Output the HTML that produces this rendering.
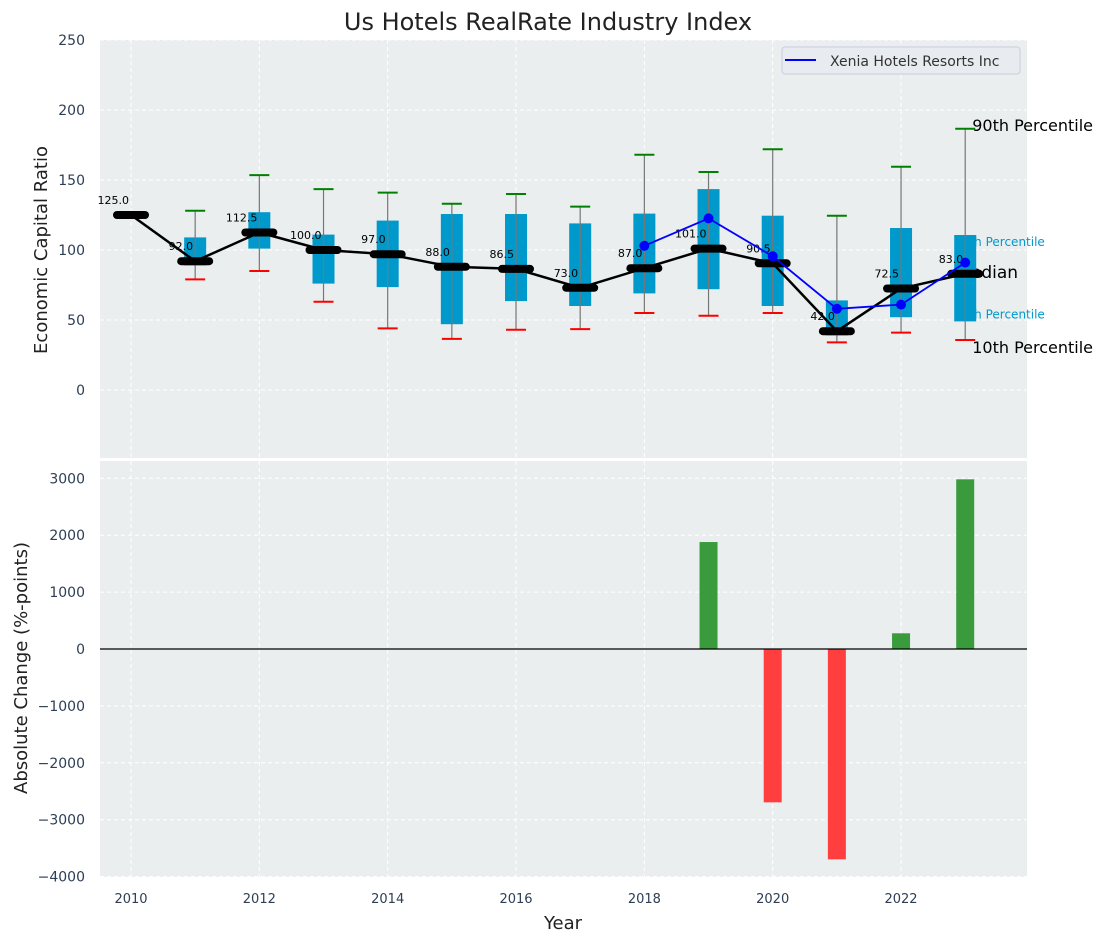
<!DOCTYPE html>
<html><head><meta charset="utf-8"><style>
html,body{margin:0;padding:0;background:#fff;}
svg{display:block;font-family:"DejaVu Sans","Liberation Sans",sans-serif;}
</style></head><body>
<svg id="chart" width="1107" height="942" viewBox="0 0 1107 942" xmlns="http://www.w3.org/2000/svg">
<text x="548" y="30" text-anchor="middle" font-size="24" fill="#222">Us Hotels RealRate Industry Index</text>
<rect x="100" y="40" width="927" height="418" fill="#eaeeef"/>
<rect x="100" y="461" width="927" height="416" fill="#eaeeef"/>
<g id="grid"></g>
<g id="annot"></g>
<g id="marks"></g>
<g id="bars"></g>
<text transform="translate(47,250) rotate(-90)" text-anchor="middle" font-size="18" fill="#222">Economic Capital Ratio</text>
<text transform="translate(27,668) rotate(-90)" text-anchor="middle" font-size="18" fill="#222">Absolute Change (%-points)</text>
<text x="563" y="929" text-anchor="middle" font-size="18" fill="#222">Year</text>
<g>
<rect x="782" y="47" width="238" height="27" rx="3" fill="#e8ebef" stroke="#ccd" stroke-width="1"/>
<line x1="785" y1="60" x2="816" y2="60" stroke="#0000ff" stroke-width="2"/>
<text x="830" y="66" font-size="14" fill="#333">Xenia Hotels Resorts Inc</text>
</g>
</svg>
<script>
const years=[2010,2011,2012,2013,2014,2015,2016,2017,2018,2019,2020,2021,2022,2023];
const medians=[125,92,112.5,100,97,88,86.5,73,87,101,90.5,42,72.5,83];
const q1=[null,89,101,76,73.5,47,63.5,60,69,72,60,39,52,49];
const q3=[null,109,127,111,121,125.7,125.7,119,126,143.5,124.5,64,115.7,110.7];
const p10=[null,79,85,63,44,36.5,43,43.5,55,53,55,34,41,35.7];
const p90=[null,128,153.5,143.5,141,133,140,131,168,155.7,172,124.5,159.5,186.6];
const xeniaYears=[2018,2019,2020,2021,2022,2023];
const xeniaValues=[103,122.6,95.5,58,61,91];
const changeYears=[2019,2020,2021,2022,2023];
const changeValues=[1880,-2695,-3697,276,2982];
const topTicks=[0,50,100,150,200,250];
const bottomTicks=[-4000,-3000,-2000,-1000,0,1000,2000,3000];
const xTicks=[2010,2012,2014,2016,2018,2020,2022];

const NS="http://www.w3.org/2000/svg";
const X=y=>131+(y-2010)*64.17;
const YT=v=>390-v*1.4;
const YB=v=>649-v*0.0569;
const fmt=v=>v<0?'\u2212'+Math.abs(v):String(v);
function mk(parent,tag,attrs,text){const e=document.createElementNS(NS,tag);for(const k in attrs)e.setAttribute(k,attrs[k]);if(text!==undefined)e.textContent=text;document.getElementById(parent).appendChild(e);return e;}

xTicks.forEach(t=>{
  let g=mk('grid','line',{x1:X(t),x2:X(t),y1:40,y2:458,stroke:'#fff','stroke-dasharray':'4,3','stroke-width':1});
  
  
  g=mk('grid','line',{x1:X(t),x2:X(t),y1:461,y2:877,stroke:'#fff','stroke-dasharray':'4,3','stroke-width':1});
  
  
  const l=mk('grid','text',{x:X(t),y:903,'text-anchor':'middle','font-size':13,fill:'#2d3e55'},t);
  
  
});
topTicks.forEach(t=>{
  const g=mk('grid','line',{x1:100,x2:1027,y1:YT(t),y2:YT(t),stroke:'#fff','stroke-dasharray':'4,3','stroke-width':1});
  
  
  const l=mk('grid','text',{x:85,y:YT(t)+5,'text-anchor':'end','font-size':14,fill:'#2d3e55'},fmt(t));
  
  
});
bottomTicks.forEach(t=>{
  const g=mk('grid','line',{x1:100,x2:1027,y1:YB(t),y2:YB(t),stroke:'#fff','stroke-dasharray':'4,3','stroke-width':1});
  
  
  const l=mk('grid','text',{x:85,y:YB(t)+5,'text-anchor':'end','font-size':14,fill:'#2d3e55'},fmt(t));
  
  
});

const last=years.length-1, lx=X(years[last]);
let a;
a=mk('annot','text',{x:lx+7,y:YT(p90[last])+2,'font-size':16,fill:'#000'},'90th Percentile');


a=mk('annot','text',{x:lx+7,y:YT(p10[last])+13,'font-size':16,fill:'#000'},'10th Percentile');


a=mk('annot','text',{x:lx-11,y:YT(q3[last])+11,'font-size':12,fill:'#0099cc'},'75th Percentile');


a=mk('annot','text',{x:lx-11,y:YT(q1[last])-3,'font-size':12,fill:'#0099cc'},'25th Percentile');


a=mk('annot','text',{x:lx-9,y:YT(medians[last])+4,'font-size':17,fill:'#000'},'Median');



years.forEach((y,i)=>{
  const x=X(y);
  if(q1[i]!==null){
    const b=mk('marks','rect',{x:x-11,y:YT(q3[i]),width:22,height:YT(q1[i])-YT(q3[i]),fill:'#0099cc'});
    
    
    const w=mk('marks','line',{x1:x,x2:x,y1:YT(p90[i]),y2:YT(p10[i]),stroke:'#777','stroke-width':1.2});
    
    
    const h=mk('marks','line',{x1:x-10,x2:x+10,y1:YT(p90[i]),y2:YT(p90[i]),stroke:'green','stroke-width':2});
    
    
    const lo=mk('marks','line',{x1:x-10,x2:x+10,y1:YT(p10[i]),y2:YT(p10[i]),stroke:'red','stroke-width':2});
    
    
  }
});
const mpts=years.map((y,i)=>X(y)+','+YT(medians[i])).join(' ');
const ml=mk('marks','polyline',{points:mpts,fill:'none',stroke:'#000','stroke-width':2.5});


years.forEach((y,i)=>{
  const x=X(y),yy=YT(medians[i]);
  const m=mk('marks','line',{x1:x-14,x2:x+14,y1:yy,y2:yy,stroke:'#000','stroke-width':8,'stroke-linecap':'round'});
  
  
  const t=mk('marks','text',{x:x-2,y:yy-11,'text-anchor':'end','font-size':11,fill:'#000'},medians[i].toFixed(1));
  
  
});
const xpts=xeniaYears.map((y,i)=>X(y)+','+YT(xeniaValues[i])).join(' ');
const xl=mk('marks','polyline',{points:xpts,fill:'none',stroke:'#0000ff','stroke-width':1.8});


xeniaYears.forEach((y,i)=>{
  const c=mk('marks','circle',{cx:X(y),cy:YT(xeniaValues[i]),r:5,fill:'#0000ff'});
  
  
});
changeYears.forEach((y,i)=>{
  const v=changeValues[i],y0=YB(0),y1=YB(v);
  const r=mk('bars','rect',{x:X(y)-9,y:Math.min(y0,y1),width:18,height:Math.abs(y1-y0),fill:v>=0?'#3a9b3c':'#ff3f3f'});
  
  
});
const zl=mk('bars','line',{x1:100,x2:1027,y1:YB(0),y2:YB(0),stroke:'#000','stroke-width':1.2});


</script>
</body></html>
